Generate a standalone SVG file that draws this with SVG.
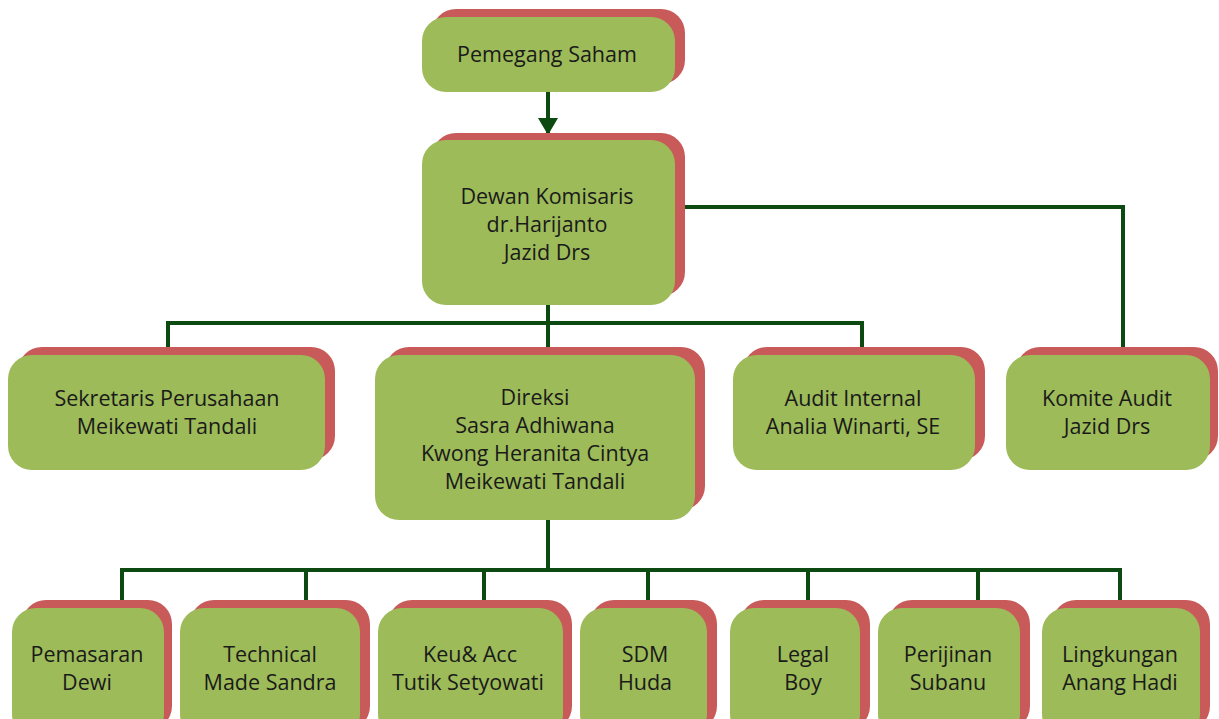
<svg xmlns="http://www.w3.org/2000/svg" width="1219" height="719" viewBox="0 0 1219 719">
<style>
.sh{fill:#c85a5a}
.bx{fill:#9dbb59}
text{font-family:"Open Sans","DejaVu Sans",sans-serif;font-size:21.5px;fill:#1a1a1a;text-anchor:middle}
.ln{stroke:#0c4a12;stroke-width:4;fill:none}
</style>
<defs>
<marker id="ah" markerWidth="18" markerHeight="20" refX="16" refY="10" orient="auto" markerUnits="userSpaceOnUse" viewBox="0 0 18 20">
<polygon points="0,0 17,10 0,20" fill="#0c4a12"/>
</marker>
</defs>
<rect width="1219" height="719" fill="#ffffff"/>
<g id="connectors">
<line class="ln" x1="548" y1="92" x2="548" y2="134" marker-end="url(#ah)"/>
<polyline class="ln" points="548,305 548,323"/>
<polyline class="ln" points="168,355 168,323 862,323 862,355"/>
<line class="ln" x1="548" y1="323" x2="548" y2="355"/>
<polyline class="ln" points="675,207 1123,207 1123,355"/>
<polyline class="ln" points="548,520 548,570"/>
<polyline class="ln" points="122,608 122,570 1120,570 1120,608"/>
<line class="ln" x1="306" y1="570" x2="306" y2="608"/>
<line class="ln" x1="484" y1="570" x2="484" y2="608"/>
<line class="ln" x1="648" y1="570" x2="648" y2="608"/>
<line class="ln" x1="808" y1="570" x2="808" y2="608"/>
<line class="ln" x1="978" y1="570" x2="978" y2="608"/>
</g>
<g id="pemegang">
<rect class="sh" x="432" y="9" width="253" height="75" rx="24"/>
<rect class="bx" x="422" y="17" width="253" height="75" rx="24"/>
<text x="547" y="62">Pemegang Saham</text>
</g>
<g id="dewan">
<rect class="sh" x="432" y="133" width="253" height="163" rx="24"/>
<rect class="bx" x="422" y="140" width="253" height="165" rx="24"/>
<text x="547" y="204">Dewan Komisaris</text>
<text x="547" y="232">dr.Harijanto</text>
<text x="547" y="260">Jazid Drs</text>
</g>
<g id="sekretaris">
<rect class="sh" x="18" y="347" width="317" height="113" rx="24"/>
<rect class="bx" x="8" y="355" width="317" height="115" rx="24"/>
<text x="167" y="406">Sekretaris Perusahaan</text>
<text x="167" y="434">Meikewati Tandali</text>
</g>
<g id="direksi">
<rect class="sh" x="385" y="347" width="320" height="163" rx="24"/>
<rect class="bx" x="375" y="355" width="320" height="165" rx="24"/>
<text x="535" y="405">Direksi</text>
<text x="535" y="433">Sasra Adhiwana</text>
<text x="535" y="461">Kwong Heranita Cintya</text>
<text x="535" y="489">Meikewati Tandali</text>
</g>
<g id="audit-internal">
<rect class="sh" x="743" y="347" width="242" height="113" rx="24"/>
<rect class="bx" x="733" y="355" width="242" height="115" rx="24"/>
<text x="853" y="406">Audit Internal</text>
<text x="853" y="434">Analia Winarti, SE</text>
</g>
<g id="komite-audit">
<rect class="sh" x="1016" y="347" width="202" height="113" rx="24"/>
<rect class="bx" x="1006" y="355" width="204" height="115" rx="24"/>
<text x="1107" y="406">Komite Audit</text>
<text x="1107" y="434">Jazid Drs</text>
</g>
<g id="pemasaran">
<rect class="sh" x="22" y="600" width="150" height="130" rx="24"/>
<rect class="bx" x="12" y="608" width="152" height="130" rx="24"/>
<text x="87" y="662">Pemasaran</text>
<text x="87" y="690">Dewi</text>
</g>
<g id="technical">
<rect class="sh" x="190" y="600" width="180" height="130" rx="24"/>
<rect class="bx" x="180" y="608" width="180" height="130" rx="24"/>
<text x="270" y="662">Technical</text>
<text x="270" y="690">Made Sandra</text>
</g>
<g id="keu-acc">
<rect class="sh" x="388" y="600" width="184" height="130" rx="24"/>
<rect class="bx" x="378" y="608" width="185" height="130" rx="24"/>
<text x="470" y="662">Keu&amp; Acc</text>
<text x="468" y="690">Tutik Setyowati</text>
</g>
<g id="sdm">
<rect class="sh" x="590" y="600" width="127" height="130" rx="24"/>
<rect class="bx" x="580" y="608" width="127" height="130" rx="24"/>
<text x="645" y="662">SDM</text>
<text x="645" y="690">Huda</text>
</g>
<g id="legal">
<rect class="sh" x="740" y="600" width="130" height="130" rx="24"/>
<rect class="bx" x="730" y="608" width="130" height="130" rx="24"/>
<text x="803" y="662">Legal</text>
<text x="803" y="690">Boy</text>
</g>
<g id="perijinan">
<rect class="sh" x="888" y="600" width="142" height="130" rx="24"/>
<rect class="bx" x="878" y="608" width="142" height="130" rx="24"/>
<text x="948" y="662">Perijinan</text>
<text x="948" y="690">Subanu</text>
</g>
<g id="lingkungan">
<rect class="sh" x="1052" y="600" width="158" height="130" rx="24"/>
<rect class="bx" x="1042" y="608" width="158" height="130" rx="24"/>
<text x="1120" y="662">Lingkungan</text>
<text x="1120" y="690">Anang Hadi</text>
</g>
</svg>
